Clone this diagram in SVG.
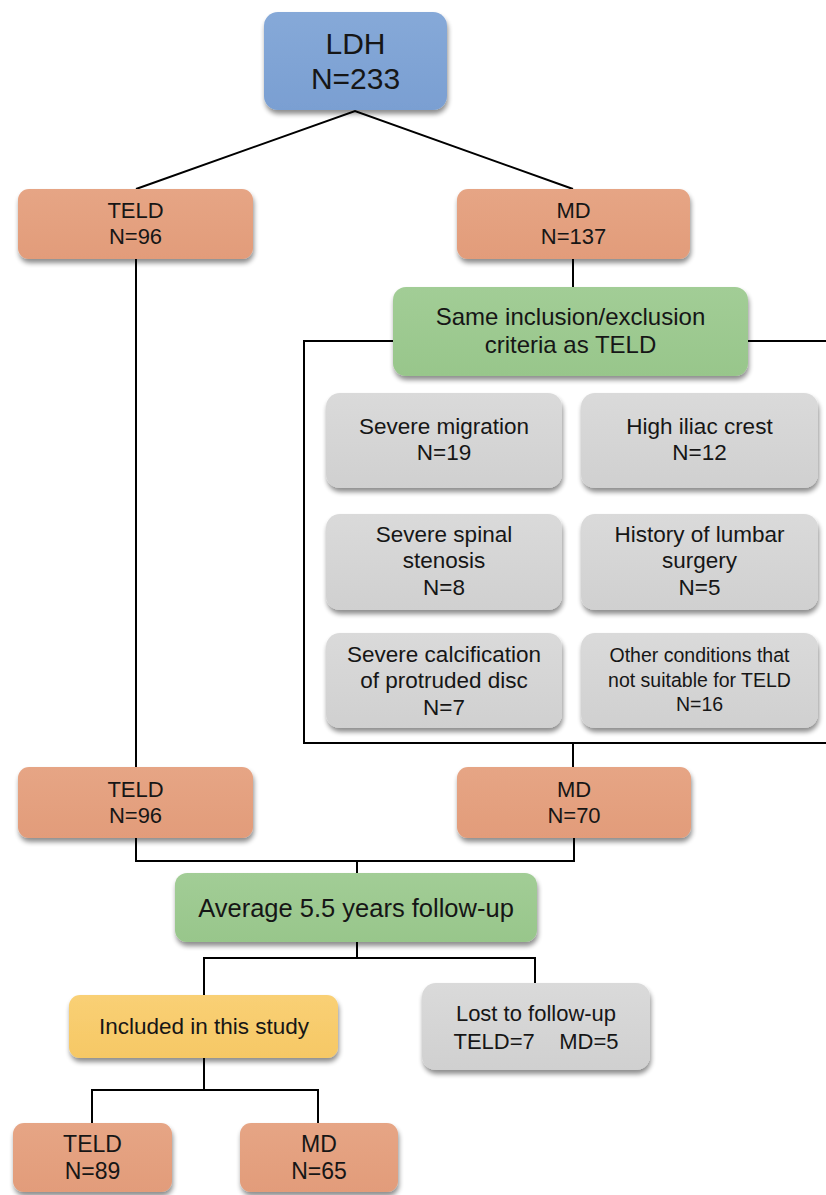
<svg xmlns="http://www.w3.org/2000/svg" width="826" height="1195" viewBox="0 0 826 1195">
<style>
  text { font-family: "Liberation Sans", Arial, sans-serif; fill: #161616; text-anchor: middle; }
  .box { filter: url(#sh); }
  .blue { fill: url(#gBlue); }
  .orange { fill: url(#gOrange); }
  .green { fill: url(#gGreen); }
  .gray { fill: url(#gGray); }
  .yellow { fill: url(#gYellow); }
  .conn { fill: none; stroke: #000; stroke-width: 2; }
  .t22 { font-size: 22px; }
  .tg { font-size: 22.5px; }
  .t21 { font-size: 22.5px; }
  .t19 { font-size: 19.5px; }
  .t24 { font-size: 24px; }
  .t25 { font-size: 25.5px; }
  .t30 { font-size: 30px; }
  .t23 { font-size: 23px; }
</style>
<defs>
  <filter id="sh" x="-10%" y="-10%" width="125%" height="135%">
    <feGaussianBlur in="SourceAlpha" stdDeviation="2.5"/>
    <feOffset dx="1" dy="4" result="b"/>
    <feComponentTransfer><feFuncA type="linear" slope="0.45"/></feComponentTransfer>
    <feMerge><feMergeNode/><feMergeNode in="SourceGraphic"/></feMerge>
  </filter>
  <linearGradient id="gBlue" x1="0" y1="0" x2="0" y2="1">
    <stop offset="0" stop-color="#86a9d8"/><stop offset="1" stop-color="#7a9fd2"/>
  </linearGradient>
  <linearGradient id="gOrange" x1="0" y1="0" x2="0" y2="1">
    <stop offset="0" stop-color="#e6a585"/><stop offset="1" stop-color="#e29c7a"/>
  </linearGradient>
  <linearGradient id="gGreen" x1="0" y1="0" x2="0" y2="1">
    <stop offset="0" stop-color="#a2cd96"/><stop offset="1" stop-color="#98c68b"/>
  </linearGradient>
  <linearGradient id="gGray" x1="0" y1="0" x2="0" y2="1">
    <stop offset="0" stop-color="#dadada"/><stop offset="1" stop-color="#d0d0d0"/>
  </linearGradient>
  <linearGradient id="gYellow" x1="0" y1="0" x2="0" y2="1">
    <stop offset="0" stop-color="#f9d075"/><stop offset="1" stop-color="#f6c865"/>
  </linearGradient>
</defs>

<g id="connectors">
  <polyline class="conn" points="136,189 355,111 573,189"/>
  <line class="conn" x1="136" y1="259" x2="136" y2="768"/>
  <line class="conn" x1="573" y1="259" x2="573" y2="288"/>
  <polyline class="conn" points="393,341 304,341 304,743 826,743"/>
  <line class="conn" x1="748" y1="341" x2="826" y2="341"/>
  <line class="conn" x1="573" y1="743" x2="573" y2="768"/>
  <polyline class="conn" points="136,838 136,861 574,861 574,838"/>
  <line class="conn" x1="357" y1="861" x2="357" y2="874"/>
  <line class="conn" x1="357" y1="942" x2="357" y2="958"/>
  <polyline class="conn" points="204,996 204,958 535,958 535,984"/>
  <line class="conn" x1="204" y1="1058" x2="204" y2="1090"/>
  <polyline class="conn" points="92,1124 92,1090 318,1090 318,1124"/>
</g>

<g id="ldh">
  <rect class="box blue" x="264" y="12" width="183" height="98" rx="14"/>
  <text class="t30" x="355.5" y="54">LDH</text>
  <text class="t30" x="355.5" y="89">N=233</text>
</g>

<g id="teld1">
  <rect class="box orange" x="18" y="189" width="235" height="70" rx="11"/>
  <text class="t22" x="135.5" y="218">TELD</text>
  <text class="t22" x="135.5" y="244">N=96</text>
</g>

<g id="md1">
  <rect class="box orange" x="457" y="189" width="233" height="70" rx="11"/>
  <text class="t22" x="573.5" y="218">MD</text>
  <text class="t22" x="573.5" y="244">N=137</text>
</g>

<g id="criteria">
  <rect class="box green" x="393" y="287" width="355" height="89" rx="13"/>
  <text class="t24" x="570.5" y="325">Same inclusion/exclusion</text>
  <text class="t24" x="570.5" y="353">criteria as TELD</text>
</g>

<g id="migration">
  <rect class="box gray" x="326" y="393" width="236" height="95" rx="14"/>
  <text class="tg" x="444" y="434">Severe migration</text>
  <text class="tg" x="444" y="460">N=19</text>
</g>

<g id="iliac">
  <rect class="box gray" x="581" y="393" width="237" height="95" rx="14"/>
  <text class="tg" x="699.5" y="434">High iliac crest</text>
  <text class="tg" x="699.5" y="460">N=12</text>
</g>

<g id="stenosis">
  <rect class="box gray" x="326" y="514" width="236" height="96" rx="14"/>
  <text class="tg" x="444" y="542">Severe spinal</text>
  <text class="tg" x="444" y="568">stenosis</text>
  <text class="tg" x="444" y="595">N=8</text>
</g>

<g id="history">
  <rect class="box gray" x="581" y="514" width="237" height="96" rx="14"/>
  <text class="tg" x="699.5" y="542">History of lumbar</text>
  <text class="tg" x="699.5" y="568">surgery</text>
  <text class="tg" x="699.5" y="595">N=5</text>
</g>

<g id="calcification">
  <rect class="box gray" x="326" y="633" width="236" height="95" rx="14"/>
  <text class="tg" x="444" y="662">Severe calcification</text>
  <text class="tg" x="444" y="688">of protruded disc</text>
  <text class="tg" x="444" y="715">N=7</text>
</g>

<g id="other">
  <rect class="box gray" x="581" y="633" width="237" height="95" rx="14"/>
  <text class="t19" x="699.5" y="662">Other conditions that</text>
  <text class="t19" x="699.5" y="687">not suitable  for TELD</text>
  <text class="t19" x="699.5" y="711">N=16</text>
</g>

<g id="teld2">
  <rect class="box orange" x="18" y="767" width="235" height="71" rx="11"/>
  <text class="t22" x="135.5" y="797">TELD</text>
  <text class="t22" x="135.5" y="823">N=96</text>
</g>

<g id="md2">
  <rect class="box orange" x="457" y="767" width="234" height="71" rx="11"/>
  <text class="t22" x="574" y="797">MD</text>
  <text class="t22" x="574" y="823">N=70</text>
</g>

<g id="followup">
  <rect class="box green" x="175" y="873" width="362" height="69" rx="12"/>
  <text class="t25" x="356" y="917">Average 5.5 years follow-up</text>
</g>

<g id="included">
  <rect class="box yellow" x="69" y="995" width="269" height="63" rx="11"/>
  <text class="t21" x="204" y="1034">Included in this study</text>
</g>

<g id="lost">
  <rect class="box gray" x="422" y="983" width="228" height="87" rx="14"/>
  <text class="t22" x="536" y="1021">Lost to follow-up</text>
  <text class="t22" x="536" y="1049" xml:space="preserve">TELD=7    MD=5</text>
</g>

<g id="teld3">
  <rect class="box orange" x="13" y="1123" width="159" height="69" rx="11"/>
  <text class="t23" x="92.5" y="1152">TELD</text>
  <text class="t23" x="92.5" y="1179">N=89</text>
</g>

<g id="md3">
  <rect class="box orange" x="240" y="1123" width="158" height="69" rx="11"/>
  <text class="t23" x="319" y="1152">MD</text>
  <text class="t23" x="319" y="1179">N=65</text>
</g>
</svg>
